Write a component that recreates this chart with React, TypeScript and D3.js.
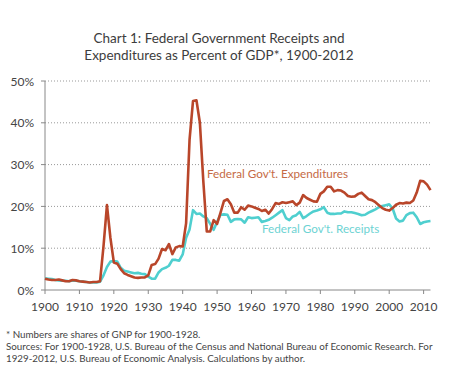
import React from "react";
import * as d3 from "d3";

const startYear = 1900;
const expenditures = [
  2.7, 2.5, 2.4, 2.4, 2.5, 2.3, 2.1, 2.1, 2.4, 2.3,
  2.1, 2.0, 1.9, 1.8, 1.9, 1.9, 2.1, 10.5, 20.3, 12.5,
  6.6, 6.3, 5.0, 4.0, 3.6, 3.3, 3.0, 2.9, 3.0, 3.0,
  3.5, 6.0, 6.2, 7.5, 9.8, 9.5, 11.0, 8.6, 10.2, 10.5,
  10.4, 16.0, 36.0, 45.2, 45.4, 40.0, 26.0, 14.0, 14.0, 16.7,
  15.8, 18.5, 21.3, 21.7, 20.5, 18.5, 18.5, 19.8, 19.2, 20.2,
  20.0, 19.7, 19.4, 18.9, 19.2, 18.3, 19.4, 20.8, 20.6, 21.0,
  20.8, 21.0, 21.2, 20.3, 20.9, 22.7, 22.0, 21.6, 21.2, 21.1,
  23.0, 23.6, 24.7, 24.7, 23.6, 23.9, 23.8, 23.3, 22.5, 22.3,
  22.4, 23.0, 23.3, 22.5, 21.7, 21.5, 21.0, 20.3, 19.6, 19.2,
  19.0, 19.6, 20.4, 20.8, 20.7, 20.9, 20.8, 21.4, 23.3, 26.1,
  26.0, 25.2, 23.9,
];
const receipts = [
  2.8, 2.7, 2.6, 2.4, 2.3, 2.2, 2.2, 2.1, 2.3, 2.2,
  2.1, 2.0, 1.9, 1.8, 1.8, 1.8, 2.0, 3.5, 5.5, 6.8,
  6.9, 6.8, 5.3, 4.6, 4.4, 4.2, 4.0, 4.1, 3.9, 3.8,
  3.2, 2.7, 2.7, 4.2, 5.0, 5.3, 5.8, 7.2, 7.2, 7.0,
  8.5, 12.5, 14.5, 19.1, 18.2, 18.3, 17.6, 17.2, 15.8, 14.4,
  16.3, 18.0, 18.1, 18.0, 16.3, 16.9, 17.0, 16.9, 16.1, 17.4,
  17.2, 17.3, 17.4, 16.3, 16.5, 16.8, 17.3, 17.9, 18.5, 19.1,
  17.2, 16.7, 17.6, 17.9, 18.7, 17.2, 17.7, 18.3, 18.8, 19.0,
  19.3, 19.8, 18.5, 18.2, 18.2, 18.3, 18.3, 18.8, 18.6, 18.6,
  18.4, 18.2, 17.9, 18.0, 18.5, 18.9, 19.3, 19.8, 20.1, 20.3,
  20.5, 19.5, 17.1, 16.4, 16.6, 17.9, 18.4, 18.5, 17.4, 15.8,
  16.2, 16.4, 16.5,
];
const xTicks = [1900, 1910, 1920, 1930, 1940, 1950, 1960, 1970, 1980, 1990, 2000, 2010];
const yTicks = [0, 10, 20, 30, 40, 50];
const titleLines = [
  "Chart 1: Federal Government Receipts and",
  "Expenditures as Percent of GDP*, 1900-2012",
];
const footLines = [
  "* Numbers are shares of GNP for 1900-1928.",
  "Sources: For 1900-1928, U.S. Bureau of the Census and National Bureau of Economic Research.  For",
  "1929-2012,  U.S. Bureau of Economic Analysis.  Calculations by author.",
];

export default function App() {
  const W = 463, H = 388;
  const x = d3.scaleLinear().domain([1900, 2012]).range([45, 430.5]);
  const y = d3.scaleLinear().domain([0, 50]).range([290, 81]);
  const line = d3
    .line<number>()
    .x((_, i) => x(startYear + i))
    .y((d) => y(d));
  const font = "Lato, 'Open Sans', sans-serif";
  const expColor = "#b9462a";
  const recColor = "#4fcfcf";
  return (
    <svg
      width={W}
      height={H}
      style={{ position: "fixed", left: 0, top: 0, background: "#fff" }}
      fontFamily={font}
    >
      {titleLines.map((t, i) => (
        <text key={i} x={219} y={43 + i * 16.5} textAnchor="middle" fontSize={13.5} fontWeight={400} fill="#3d3d3d">
          {t}
        </text>
      ))}
      {yTicks.filter((t) => t > 0).map((t) => (
        <line key={t} x1={x(1900)} x2={430.5} y1={y(t)} y2={y(t)} stroke="#999" strokeDasharray="1,2" strokeWidth={1} />
      ))}
      <line x1={x(1900)} x2={x(1900)} y1={y(50)} y2={y(0)} stroke="#888" />
      <line x1={x(1900)} x2={x(2012)} y1={y(0)} y2={y(0)} stroke="#888" />
      {yTicks.map((t) => (
        <g key={t}>
          <line x1={x(1900) - 4} x2={x(1900)} y1={y(t)} y2={y(t)} stroke="#888" />
          <text x={34} y={y(t) + 4.5} textAnchor="end" fontSize={12} fill="#444">
            {t}%
          </text>
        </g>
      ))}
      {xTicks.map((t) => (
        <g key={t}>
          <line x1={x(t)} x2={x(t)} y1={y(0)} y2={y(0) + 4} stroke="#888" />
          <text x={x(t)} y={311} textAnchor="middle" fontSize={12} fill="#444">
            {t}
          </text>
        </g>
      ))}
      <path d={line(receipts) || ""} fill="none" stroke={recColor} strokeWidth={2.6} strokeLinejoin="round" />
      <path d={line(expenditures) || ""} fill="none" stroke={expColor} strokeWidth={2.6} strokeLinejoin="round" />
      <text x={207} y={178} fontSize={11.7} fill="#c56a45">Federal Gov't. Expenditures</text>
      <text x={262} y={233} fontSize={11.7} fill="#6dd3d3">Federal Gov't. Receipts</text>
      {footLines.map((t, i) => (
        <text key={i} x={6} y={337.5 + i * 12.3} fontSize={9.8} fill="#444">
          {t}
        </text>
      ))}
    </svg>
  );
}
